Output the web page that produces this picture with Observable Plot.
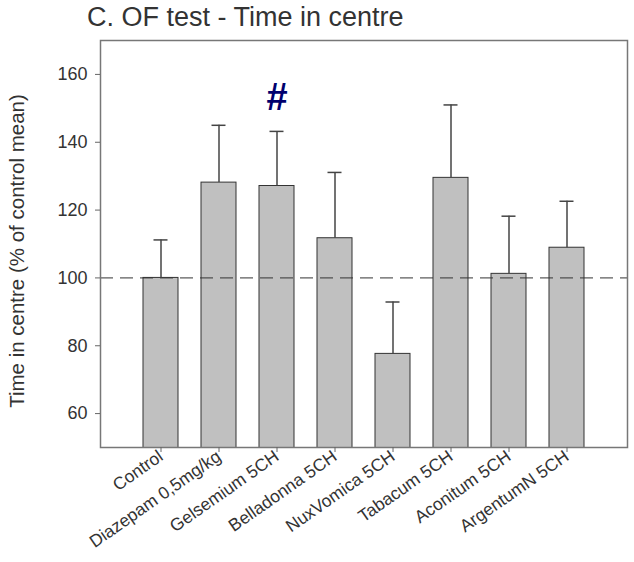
<!DOCTYPE html>
<html>
<head>
<meta charset="utf-8">
<script src="https://cdn.jsdelivr.net/npm/d3@7"></script>
<script src="https://cdn.jsdelivr.net/npm/@observablehq/plot@0.6"></script>
<style>
  html, body { margin: 0; padding: 0; background: #fff; }
  #wrap { position: relative; width: 634px; height: 562px; font-family: "Liberation Sans", Arial, sans-serif; }
  #title { position: absolute; left: 87px; top: 4px; font-size: 27px; line-height: 27px; color: #333; white-space: nowrap; }
  #chart { position: absolute; left: 0; top: 0; }
</style>
</head>
<body>
<div id="wrap">
  <div id="chart"></div>
  <div id="title">C. OF test - Time in centre</div>
</div>
<script>
const groups = ["Control", "Diazepam 0,5mg/kg", "Gelsemium 5CH", "Belladonna 5CH", "NuxVomica 5CH", "Tabacum 5CH", "Aconitum 5CH", "ArgentumN 5CH"];
const means  = [100, 128.1, 127.1, 111.7, 77.6, 129.5, 101.2, 108.9];
const sems   = [11.2, 16.9, 16.1, 19.4, 15.3, 21.5, 17.0, 13.7];
const yTicks = [60, 80, 100, 120, 140, 160];
const yDomain = [50, 170];
const refLine = [100];
const marks = [{group: "Gelsemium 5CH", label: "#"}];
const yLabel = "Time in centre (% of control mean)";

const data = groups.map((g, i) => ({group: g, mean: means[i], top: means[i] + sems[i]}));
const sig = marks.map(m => {
  const d = data.find(r => r.group === m.group);
  return {group: m.group, label: m.label, y: d.top};
});

const font = '"Liberation Sans", Arial, sans-serif';

const plot = Plot.plot({
  width: 634,
  height: 562,
  marginLeft: 100,
  marginRight: 7,
  marginTop: 40,
  marginBottom: 115,
  style: {fontFamily: font, background: "#fff", color: "#333"},
  x: {domain: groups, paddingInner: 0.4, paddingOuter: 0.71, label: null},
  y: {domain: yDomain, label: null},
  marks: [
    Plot.barY(data, {x: "group", y: "mean", fill: "#c0c0c0", stroke: "#333", strokeWidth: 1, clip: true}),
    Plot.ruleY(refLine, {stroke: "#333", strokeWidth: 1, strokeDasharray: "13,7"}),
    Plot.ruleX(data, {x: "group", y1: "mean", y2: "top", stroke: "#444", strokeWidth: 1.5}),
    Plot.tickY(data, {x: "group", y: "top", stroke: "#444", strokeWidth: 1.5, insetLeft: 10.5, insetRight: 10.5}),
    Plot.frame({stroke: "#777", strokeWidth: 1.5}),
    Plot.axisY({ticks: yTicks, tickSize: 5, tickPadding: 8, fontSize: 18, stroke: "#666", fill: "#333", label: null}),
    Plot.axisX({tickSize: 5, tickPadding: 2, tickRotate: -35, fontSize: 17.5, stroke: "#666", fill: "#333", label: null}),
    Plot.text([yLabel], {frameAnchor: "left", textAnchor: "middle", dx: -83, dy: 7, rotate: -90, fontSize: 20.5, fill: "#333", text: d => d}),
    Plot.text(sig, {x: "group", y: "y", text: "label", dy: -34, fontSize: 38, fontWeight: "bold", fill: "#00006e"})
  ]
});
document.getElementById("chart").appendChild(plot);
</script>
</body>
</html>
